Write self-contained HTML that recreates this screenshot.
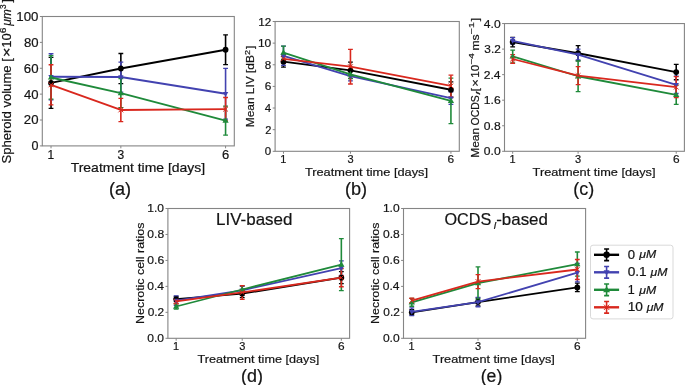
<!DOCTYPE html><html><head><meta charset="utf-8"><style>html,body{margin:0;padding:0;background:#fff;overflow:hidden;}svg{display:block;will-change:transform;}text{stroke:#141414;stroke-width:0.2px;font-family:"Liberation Sans",sans-serif;fill:#141414;}</style></head><body>
<svg width="685" height="385" viewBox="0 0 685 385">
<rect width="685" height="385" fill="#fff"/>
<rect x="42.3" y="16.5" width="192" height="129.4" fill="none" stroke="#858585" stroke-width="1.1"/>
<line x1="39.9" y1="145.9" x2="42.3" y2="145.9" stroke="#858585" stroke-width="1"/>
<text transform="translate(31.51,150.27) scale(0.9872,1)" font-size="12.71">0</text>
<line x1="39.9" y1="120.02" x2="42.3" y2="120.02" stroke="#858585" stroke-width="1"/>
<text transform="translate(23.86,124.39) scale(1.0371,1)" font-size="12.71">20</text>
<line x1="39.9" y1="94.14" x2="42.3" y2="94.14" stroke="#858585" stroke-width="1"/>
<text transform="translate(23.93,98.51) scale(1.0319,1)" font-size="12.71">40</text>
<line x1="39.9" y1="68.26" x2="42.3" y2="68.26" stroke="#858585" stroke-width="1"/>
<text transform="translate(23.81,72.63) scale(1.0407,1)" font-size="12.71">60</text>
<line x1="39.9" y1="42.38" x2="42.3" y2="42.38" stroke="#858585" stroke-width="1"/>
<text transform="translate(23.88,46.75) scale(1.0351,1)" font-size="12.71">80</text>
<line x1="39.9" y1="16.5" x2="42.3" y2="16.5" stroke="#858585" stroke-width="1"/>
<text transform="translate(16.37,20.87) scale(1.0446,1)" font-size="12.71">100</text>
<line x1="51.03" y1="145.9" x2="51.03" y2="148.3" stroke="#858585" stroke-width="1"/>
<text transform="translate(47.53,158.77) scale(0.9429,1)" font-size="12.71">1</text>
<line x1="120.85" y1="145.9" x2="120.85" y2="148.3" stroke="#858585" stroke-width="1"/>
<text transform="translate(117.53,158.77) scale(0.9481,1)" font-size="12.71">3</text>
<line x1="225.57" y1="145.9" x2="225.57" y2="148.3" stroke="#858585" stroke-width="1"/>
<text transform="translate(221.92,158.77) scale(1.0217,1)" font-size="12.71">6</text>
<path d="M51.03,57.39 L51.03,108.37" stroke="#000000" stroke-width="1.6" fill="none"/>
<path d="M48.63,57.39 L53.43,57.39 M48.63,108.37 L53.43,108.37" stroke="#000000" stroke-width="1.3" fill="none"/>
<path d="M120.85,53.51 L120.85,83.53" stroke="#000000" stroke-width="1.6" fill="none"/>
<path d="M118.45,53.51 L123.25,53.51 M118.45,83.53 L123.25,83.53" stroke="#000000" stroke-width="1.3" fill="none"/>
<path d="M225.57,34.87 L225.57,64.64" stroke="#000000" stroke-width="1.6" fill="none"/>
<path d="M223.17,34.87 L227.97,34.87 M223.17,64.64 L227.97,64.64" stroke="#000000" stroke-width="1.3" fill="none"/>
<path d="M51.03,53.77 L51.03,99.83" stroke="#4242b0" stroke-width="1.6" fill="none"/>
<path d="M48.63,53.77 L53.43,53.77 M48.63,99.83 L53.43,99.83" stroke="#4242b0" stroke-width="1.3" fill="none"/>
<path d="M120.85,62.05 L120.85,92.07" stroke="#4242b0" stroke-width="1.6" fill="none"/>
<path d="M118.45,62.05 L123.25,62.05 M118.45,92.07 L123.25,92.07" stroke="#4242b0" stroke-width="1.3" fill="none"/>
<path d="M225.57,68.39 L225.57,119.11" stroke="#4242b0" stroke-width="1.6" fill="none"/>
<path d="M223.17,68.39 L227.97,68.39 M223.17,119.11 L227.97,119.11" stroke="#4242b0" stroke-width="1.3" fill="none"/>
<path d="M51.03,55.71 L51.03,99.19" stroke="#1f8a3a" stroke-width="1.6" fill="none"/>
<path d="M48.63,55.71 L53.43,55.71 M48.63,99.19 L53.43,99.19" stroke="#1f8a3a" stroke-width="1.3" fill="none"/>
<path d="M120.85,78.61 L120.85,107.6" stroke="#1f8a3a" stroke-width="1.6" fill="none"/>
<path d="M118.45,78.61 L123.25,78.61 M118.45,107.6 L123.25,107.6" stroke="#1f8a3a" stroke-width="1.3" fill="none"/>
<path d="M225.57,106.17 L225.57,135.16" stroke="#1f8a3a" stroke-width="1.6" fill="none"/>
<path d="M223.17,106.17 L227.97,106.17 M223.17,135.16 L227.97,135.16" stroke="#1f8a3a" stroke-width="1.3" fill="none"/>
<path d="M51.03,64.77 L51.03,104.88" stroke="#d9281e" stroke-width="1.6" fill="none"/>
<path d="M48.63,64.77 L53.43,64.77 M48.63,104.88 L53.43,104.88" stroke="#d9281e" stroke-width="1.3" fill="none"/>
<path d="M120.85,98.28 L120.85,121.57" stroke="#d9281e" stroke-width="1.6" fill="none"/>
<path d="M118.45,98.28 L123.25,98.28 M118.45,121.57 L123.25,121.57" stroke="#d9281e" stroke-width="1.3" fill="none"/>
<path d="M225.57,97.5 L225.57,120.8" stroke="#d9281e" stroke-width="1.6" fill="none"/>
<path d="M223.17,97.5 L227.97,97.5 M223.17,120.8 L227.97,120.8" stroke="#d9281e" stroke-width="1.3" fill="none"/>
<path d="M51.03,82.88 L120.85,68.52 L225.57,49.76" stroke="#000000" stroke-width="1.95" fill="none" stroke-linejoin="round"/>
<circle cx="51.03" cy="82.88" r="2.9" fill="#000000"/>
<circle cx="120.85" cy="68.52" r="2.9" fill="#000000"/>
<circle cx="225.57" cy="49.76" r="2.9" fill="#000000"/>
<path d="M51.03,76.8 L120.85,77.06 L225.57,93.75" stroke="#4242b0" stroke-width="1.95" fill="none" stroke-linejoin="round"/>
<polygon points="51.03,79.8 53.73,75 48.33,75" fill="#4242b0"/>
<polygon points="120.85,80.06 123.55,75.26 118.15,75.26" fill="#4242b0"/>
<polygon points="225.57,96.75 228.27,91.95 222.87,91.95" fill="#4242b0"/>
<path d="M51.03,77.45 L120.85,93.1 L225.57,120.67" stroke="#1f8a3a" stroke-width="1.95" fill="none" stroke-linejoin="round"/>
<polygon points="51.03,74.15 54.16,79.59 47.89,79.59" fill="#1f8a3a"/>
<polygon points="120.85,89.8 123.98,95.25 117.71,95.25" fill="#1f8a3a"/>
<polygon points="225.57,117.37 228.71,122.81 222.44,122.81" fill="#1f8a3a"/>
<path d="M51.03,84.82 L120.85,109.93 L225.57,109.15" stroke="#d9281e" stroke-width="1.95" fill="none" stroke-linejoin="round"/>
<path d="M48.63,82.42 L53.43,87.22 M48.63,87.22 L53.43,82.42" stroke="#d9281e" stroke-width="1.0" fill="none"/>
<path d="M118.45,107.53 L123.25,112.33 M118.45,112.33 L123.25,107.53" stroke="#d9281e" stroke-width="1.0" fill="none"/>
<path d="M223.17,106.75 L227.97,111.55 M223.17,111.55 L227.97,106.75" stroke="#d9281e" stroke-width="1.0" fill="none"/>
<text transform="translate(70.69,171.8) scale(1.1089,1)" font-size="12.6">Treatment time [days]</text>
<text transform="translate(10.6,163.59) rotate(-90) scale(1.0729,1)" font-size="12.2">Spheroid volume [</text>
<text transform="translate(10.6,57.37) rotate(-90) scale(1.3459,1)" font-size="12.5">×</text>
<text transform="translate(10.6,47.79) rotate(-90) scale(1.0687,1)" font-size="12.2">10</text>
<text transform="translate(6.4,33.32) rotate(-90) scale(1.2422,1)" font-size="8.2">6</text>
<text transform="translate(10.6,25.85) rotate(-90) scale(0.9917,1)" font-size="12.2" font-style="italic">μm</text>
<text transform="translate(6.4,8.91) rotate(-90) scale(1.0031,1)" font-size="8.2">3</text>
<text transform="translate(10.6,2.39) rotate(-90) scale(0.9899,1)" font-size="12.2">]</text>
<text transform="translate(108.92,194.81) scale(1.0322,1)" font-size="17.6">(a)</text>
<rect x="275.1" y="21.5" width="184.2" height="129.8" fill="none" stroke="#858585" stroke-width="1.1"/>
<line x1="272.7" y1="151.3" x2="275.1" y2="151.3" stroke="#858585" stroke-width="1"/>
<text transform="translate(264.86,155.3) scale(0.9872,1)" font-size="11.64">0</text>
<line x1="272.7" y1="129.67" x2="275.1" y2="129.67" stroke="#858585" stroke-width="1"/>
<text transform="translate(265.2,133.67) scale(0.9516,1)" font-size="11.64">2</text>
<line x1="272.7" y1="108.03" x2="275.1" y2="108.03" stroke="#858585" stroke-width="1"/>
<text transform="translate(264.75,112.04) scale(0.9873,1)" font-size="11.64">4</text>
<line x1="272.7" y1="86.4" x2="275.1" y2="86.4" stroke="#858585" stroke-width="1"/>
<text transform="translate(264.71,90.4) scale(1.0217,1)" font-size="11.64">6</text>
<line x1="272.7" y1="64.77" x2="275.1" y2="64.77" stroke="#858585" stroke-width="1"/>
<text transform="translate(264.85,68.77) scale(0.9979,1)" font-size="11.64">8</text>
<line x1="272.7" y1="43.13" x2="275.1" y2="43.13" stroke="#858585" stroke-width="1"/>
<text transform="translate(257.94,47.14) scale(1.0296,1)" font-size="11.64">10</text>
<line x1="272.7" y1="21.5" x2="275.1" y2="21.5" stroke="#858585" stroke-width="1"/>
<text transform="translate(258.32,25.5) scale(1.0093,1)" font-size="11.64">12</text>
<line x1="283.47" y1="151.3" x2="283.47" y2="153.7" stroke="#858585" stroke-width="1"/>
<text transform="translate(280.27,163.42) scale(0.9429,1)" font-size="11.64">1</text>
<line x1="350.45" y1="151.3" x2="350.45" y2="153.7" stroke="#858585" stroke-width="1"/>
<text transform="translate(347.42,163.42) scale(0.9481,1)" font-size="11.64">3</text>
<line x1="450.93" y1="151.3" x2="450.93" y2="153.7" stroke="#858585" stroke-width="1"/>
<text transform="translate(447.58,163.42) scale(1.0217,1)" font-size="11.64">6</text>
<path d="M283.47,56.22 L283.47,67.04" stroke="#000000" stroke-width="1.6" fill="none"/>
<path d="M281.07,56.22 L285.87,56.22 M281.07,67.04 L285.87,67.04" stroke="#000000" stroke-width="1.3" fill="none"/>
<path d="M350.45,62.17 L350.45,78.4" stroke="#000000" stroke-width="1.6" fill="none"/>
<path d="M348.05,62.17 L352.85,62.17 M348.05,78.4 L352.85,78.4" stroke="#000000" stroke-width="1.3" fill="none"/>
<path d="M450.93,81.86 L450.93,97.65" stroke="#000000" stroke-width="1.6" fill="none"/>
<path d="M448.53,81.86 L453.33,81.86 M448.53,97.65 L453.33,97.65" stroke="#000000" stroke-width="1.3" fill="none"/>
<path d="M283.47,46.16 L283.47,65.42" stroke="#4242b0" stroke-width="1.6" fill="none"/>
<path d="M281.07,46.16 L285.87,46.16 M281.07,65.42 L285.87,65.42" stroke="#4242b0" stroke-width="1.3" fill="none"/>
<path d="M350.45,71.15 L350.45,80.88" stroke="#4242b0" stroke-width="1.6" fill="none"/>
<path d="M348.05,71.15 L352.85,71.15 M348.05,80.88 L352.85,80.88" stroke="#4242b0" stroke-width="1.3" fill="none"/>
<path d="M450.93,91.92 L450.93,104.46" stroke="#4242b0" stroke-width="1.6" fill="none"/>
<path d="M448.53,91.92 L453.33,91.92 M448.53,104.46 L453.33,104.46" stroke="#4242b0" stroke-width="1.3" fill="none"/>
<path d="M283.47,46.05 L283.47,59.03" stroke="#1f8a3a" stroke-width="1.6" fill="none"/>
<path d="M281.07,46.05 L285.87,46.05 M281.07,59.03 L285.87,59.03" stroke="#1f8a3a" stroke-width="1.3" fill="none"/>
<path d="M350.45,70.07 L350.45,78.72" stroke="#1f8a3a" stroke-width="1.6" fill="none"/>
<path d="M348.05,70.07 L352.85,70.07 M348.05,78.72 L352.85,78.72" stroke="#1f8a3a" stroke-width="1.3" fill="none"/>
<path d="M450.93,78.18 L450.93,123.61" stroke="#1f8a3a" stroke-width="1.6" fill="none"/>
<path d="M448.53,78.18 L453.33,78.18 M448.53,123.61 L453.33,123.61" stroke="#1f8a3a" stroke-width="1.3" fill="none"/>
<path d="M283.47,54.49 L283.47,63.14" stroke="#d9281e" stroke-width="1.6" fill="none"/>
<path d="M281.07,54.49 L285.87,54.49 M281.07,63.14 L285.87,63.14" stroke="#d9281e" stroke-width="1.3" fill="none"/>
<path d="M350.45,49.41 L350.45,84.02" stroke="#d9281e" stroke-width="1.6" fill="none"/>
<path d="M348.05,49.41 L352.85,49.41 M348.05,84.02 L352.85,84.02" stroke="#d9281e" stroke-width="1.3" fill="none"/>
<path d="M450.93,75.15 L450.93,96.78" stroke="#d9281e" stroke-width="1.6" fill="none"/>
<path d="M448.53,75.15 L453.33,75.15 M448.53,96.78 L453.33,96.78" stroke="#d9281e" stroke-width="1.3" fill="none"/>
<path d="M283.47,61.63 L350.45,70.28 L450.93,89.75" stroke="#000000" stroke-width="1.8" fill="none" stroke-linejoin="round"/>
<circle cx="283.47" cy="61.63" r="2.9" fill="#000000"/>
<circle cx="350.45" cy="70.28" r="2.9" fill="#000000"/>
<circle cx="450.93" cy="89.75" r="2.9" fill="#000000"/>
<path d="M283.47,55.79 L350.45,76.02 L450.93,98.19" stroke="#4242b0" stroke-width="1.8" fill="none" stroke-linejoin="round"/>
<polygon points="283.47,58.79 286.17,53.99 280.77,53.99" fill="#4242b0"/>
<polygon points="350.45,79.02 353.15,74.22 347.75,74.22" fill="#4242b0"/>
<polygon points="450.93,101.19 453.63,96.39 448.23,96.39" fill="#4242b0"/>
<path d="M283.47,52.54 L350.45,74.39 L450.93,100.89" stroke="#1f8a3a" stroke-width="1.8" fill="none" stroke-linejoin="round"/>
<polygon points="283.47,49.24 286.61,54.69 280.34,54.69" fill="#1f8a3a"/>
<polygon points="350.45,71.09 353.59,76.54 347.32,76.54" fill="#1f8a3a"/>
<polygon points="450.93,97.59 454.06,103.04 447.79,103.04" fill="#1f8a3a"/>
<path d="M283.47,58.82 L350.45,66.71 L450.93,85.97" stroke="#d9281e" stroke-width="1.8" fill="none" stroke-linejoin="round"/>
<path d="M281.07,56.42 L285.87,61.22 M281.07,61.22 L285.87,56.42" stroke="#d9281e" stroke-width="1.0" fill="none"/>
<path d="M348.05,64.31 L352.85,69.11 M348.05,69.11 L352.85,64.31" stroke="#d9281e" stroke-width="1.0" fill="none"/>
<path d="M448.53,83.57 L453.33,88.37 M448.53,88.37 L453.33,83.57" stroke="#d9281e" stroke-width="1.0" fill="none"/>
<text transform="translate(304.91,175.6) scale(1.1075,1)" font-size="11.55">Treatment time [days]</text>
<text transform="translate(254,127.28) rotate(-90) scale(1.0561,1)" font-size="11.3">Mean LIV [dB</text>
<text transform="translate(250,54.95) rotate(-90) scale(1.1842,1)" font-size="7.6">2</text>
<text transform="translate(254,48.89) rotate(-90) scale(1.0242,1)" font-size="11.3">]</text>
<text transform="translate(344.92,194.81) scale(1.0322,1)" font-size="17.6">(b)</text>
<rect x="504.5" y="23.55" width="179.9" height="127.75" fill="none" stroke="#858585" stroke-width="1.1"/>
<line x1="502.1" y1="151.3" x2="504.5" y2="151.3" stroke="#858585" stroke-width="1"/>
<text transform="translate(483.83,155.3) scale(1.0407,1)" font-size="11.64">0.0</text>
<line x1="502.1" y1="125.75" x2="504.5" y2="125.75" stroke="#858585" stroke-width="1"/>
<text transform="translate(483.85,129.75) scale(1.0428,1)" font-size="11.64">0.8</text>
<line x1="502.1" y1="100.2" x2="504.5" y2="100.2" stroke="#858585" stroke-width="1"/>
<text transform="translate(483.82,104.2) scale(1.0452,1)" font-size="11.64">1.6</text>
<line x1="502.1" y1="74.65" x2="504.5" y2="74.65" stroke="#858585" stroke-width="1"/>
<text transform="translate(483.66,78.65) scale(1.0440,1)" font-size="11.64">2.4</text>
<line x1="502.1" y1="49.1" x2="504.5" y2="49.1" stroke="#858585" stroke-width="1"/>
<text transform="translate(484.34,53.1) scale(1.0173,1)" font-size="11.64">3.2</text>
<line x1="502.1" y1="23.55" x2="504.5" y2="23.55" stroke="#858585" stroke-width="1"/>
<text transform="translate(483.84,27.55) scale(1.0401,1)" font-size="11.64">4.0</text>
<line x1="512.68" y1="151.3" x2="512.68" y2="153.7" stroke="#858585" stroke-width="1"/>
<text transform="translate(509.48,163.42) scale(0.9429,1)" font-size="11.64">1</text>
<line x1="578.1" y1="151.3" x2="578.1" y2="153.7" stroke="#858585" stroke-width="1"/>
<text transform="translate(575.06,163.42) scale(0.9481,1)" font-size="11.64">3</text>
<line x1="676.22" y1="151.3" x2="676.22" y2="153.7" stroke="#858585" stroke-width="1"/>
<text transform="translate(672.88,163.42) scale(1.0217,1)" font-size="11.64">6</text>
<path d="M512.68,37.28 L512.68,46.86" stroke="#000000" stroke-width="1.6" fill="none"/>
<path d="M510.28,37.28 L515.08,37.28 M510.28,46.86 L515.08,46.86" stroke="#000000" stroke-width="1.3" fill="none"/>
<path d="M578.1,45.59 L578.1,60.92" stroke="#000000" stroke-width="1.6" fill="none"/>
<path d="M575.7,45.59 L580.5,45.59 M575.7,60.92 L580.5,60.92" stroke="#000000" stroke-width="1.3" fill="none"/>
<path d="M676.22,64.43 L676.22,79.76" stroke="#000000" stroke-width="1.6" fill="none"/>
<path d="M673.82,64.43 L678.62,64.43 M673.82,79.76 L678.62,79.76" stroke="#000000" stroke-width="1.3" fill="none"/>
<path d="M512.68,37.6 L512.68,43.99" stroke="#4242b0" stroke-width="1.6" fill="none"/>
<path d="M510.28,37.6 L515.08,37.6 M510.28,43.99 L515.08,43.99" stroke="#4242b0" stroke-width="1.3" fill="none"/>
<path d="M578.1,49.1 L578.1,59.96" stroke="#4242b0" stroke-width="1.6" fill="none"/>
<path d="M575.7,49.1 L580.5,49.1 M575.7,59.96 L580.5,59.96" stroke="#4242b0" stroke-width="1.3" fill="none"/>
<path d="M676.22,76.25 L676.22,93.49" stroke="#4242b0" stroke-width="1.6" fill="none"/>
<path d="M673.82,76.25 L678.62,76.25 M673.82,93.49 L678.62,93.49" stroke="#4242b0" stroke-width="1.3" fill="none"/>
<path d="M512.68,50.06 L512.68,62.83" stroke="#1f8a3a" stroke-width="1.6" fill="none"/>
<path d="M510.28,50.06 L515.08,50.06 M510.28,62.83 L515.08,62.83" stroke="#1f8a3a" stroke-width="1.3" fill="none"/>
<path d="M578.1,60.92 L578.1,91.58" stroke="#1f8a3a" stroke-width="1.6" fill="none"/>
<path d="M575.7,60.92 L580.5,60.92 M575.7,91.58 L580.5,91.58" stroke="#1f8a3a" stroke-width="1.3" fill="none"/>
<path d="M676.22,85.19 L676.22,104.35" stroke="#1f8a3a" stroke-width="1.6" fill="none"/>
<path d="M673.82,85.19 L678.62,85.19 M673.82,104.35 L678.62,104.35" stroke="#1f8a3a" stroke-width="1.3" fill="none"/>
<path d="M512.68,54.53 L512.68,63.47" stroke="#d9281e" stroke-width="1.6" fill="none"/>
<path d="M510.28,54.53 L515.08,54.53 M510.28,63.47 L515.08,63.47" stroke="#d9281e" stroke-width="1.3" fill="none"/>
<path d="M578.1,66.67 L578.1,84.55" stroke="#d9281e" stroke-width="1.6" fill="none"/>
<path d="M575.7,66.67 L580.5,66.67 M575.7,84.55 L580.5,84.55" stroke="#d9281e" stroke-width="1.3" fill="none"/>
<path d="M676.22,76.57 L676.22,97.65" stroke="#d9281e" stroke-width="1.6" fill="none"/>
<path d="M673.82,76.57 L678.62,76.57 M673.82,97.65 L678.62,97.65" stroke="#d9281e" stroke-width="1.3" fill="none"/>
<path d="M512.68,42.07 L578.1,53.25 L676.22,72.09" stroke="#000000" stroke-width="1.8" fill="none" stroke-linejoin="round"/>
<circle cx="512.68" cy="42.07" r="2.9" fill="#000000"/>
<circle cx="578.1" cy="53.25" r="2.9" fill="#000000"/>
<circle cx="676.22" cy="72.09" r="2.9" fill="#000000"/>
<path d="M512.68,40.8 L578.1,54.53 L676.22,84.87" stroke="#4242b0" stroke-width="1.8" fill="none" stroke-linejoin="round"/>
<polygon points="512.68,43.8 515.38,39 509.98,39" fill="#4242b0"/>
<polygon points="578.1,57.53 580.8,52.73 575.4,52.73" fill="#4242b0"/>
<polygon points="676.22,87.87 678.92,83.07 673.52,83.07" fill="#4242b0"/>
<path d="M512.68,56.45 L578.1,76.25 L676.22,94.77" stroke="#1f8a3a" stroke-width="1.8" fill="none" stroke-linejoin="round"/>
<polygon points="512.68,53.15 515.81,58.59 509.54,58.59" fill="#1f8a3a"/>
<polygon points="578.1,72.95 581.23,78.39 574.96,78.39" fill="#1f8a3a"/>
<polygon points="676.22,91.47 679.36,96.92 673.09,96.92" fill="#1f8a3a"/>
<path d="M512.68,59 L578.1,75.61 L676.22,87.11" stroke="#d9281e" stroke-width="1.8" fill="none" stroke-linejoin="round"/>
<path d="M510.28,56.6 L515.08,61.4 M510.28,61.4 L515.08,56.6" stroke="#d9281e" stroke-width="1.0" fill="none"/>
<path d="M575.7,73.21 L580.5,78.01 M575.7,78.01 L580.5,73.21" stroke="#d9281e" stroke-width="1.0" fill="none"/>
<path d="M673.82,84.71 L678.62,89.51 M673.82,89.51 L678.62,84.71" stroke="#d9281e" stroke-width="1.0" fill="none"/>
<text transform="translate(532.61,175.6) scale(1.1057,1)" font-size="11.55">Treatment time [days]</text>
<text transform="translate(478.8,157.78) rotate(-90) scale(1.0752,1)" font-size="11.1">Mean</text>
<text transform="translate(478.8,125.4) rotate(-90) scale(0.9441,1)" font-size="11.1">OCDS</text>
<text transform="translate(480.4,94.81) rotate(-90) scale(2.1880,1)" font-size="6" font-style="italic">l</text>
<text transform="translate(478.8,91.33) rotate(-90) scale(1.0427,1)" font-size="11.1">[</text>
<text transform="translate(478.8,86.7) rotate(-90) scale(1.1828,1)" font-size="11">×</text>
<text transform="translate(478.8,77.79) rotate(-90) scale(1.0572,1)" font-size="11.1">10</text>
<text transform="translate(474.4,64.49) rotate(-90) scale(1.3367,1)" font-size="7.4">−4</text>
<text transform="translate(478.8,50.61) rotate(-90) scale(1.0982,1)" font-size="11.1">ms</text>
<text transform="translate(474.4,34.22) rotate(-90) scale(1.4136,1)" font-size="7.4">−1</text>
<text transform="translate(478.8,21.19) rotate(-90) scale(1.0427,1)" font-size="11.1">]</text>
<text transform="translate(573.19,194.76) scale(1.0197,1)" font-size="17.6">(c)</text>
<rect x="167.9" y="208.5" width="181.7" height="129.8" fill="none" stroke="#858585" stroke-width="1.1"/>
<line x1="165.5" y1="338.3" x2="167.9" y2="338.3" stroke="#858585" stroke-width="1"/>
<text transform="translate(147.31,342.29) scale(1.0407,1)" font-size="11.59">0.0</text>
<line x1="165.5" y1="312.34" x2="167.9" y2="312.34" stroke="#858585" stroke-width="1"/>
<text transform="translate(147.68,316.33) scale(1.0254,1)" font-size="11.59">0.2</text>
<line x1="165.5" y1="286.38" x2="167.9" y2="286.38" stroke="#858585" stroke-width="1"/>
<text transform="translate(147.2,290.37) scale(1.0403,1)" font-size="11.59">0.4</text>
<line x1="165.5" y1="260.42" x2="167.9" y2="260.42" stroke="#858585" stroke-width="1"/>
<text transform="translate(147.27,264.41) scale(1.0471,1)" font-size="11.59">0.6</text>
<line x1="165.5" y1="234.46" x2="167.9" y2="234.46" stroke="#858585" stroke-width="1"/>
<text transform="translate(147.33,238.45) scale(1.0428,1)" font-size="11.59">0.8</text>
<line x1="165.5" y1="208.5" x2="167.9" y2="208.5" stroke="#858585" stroke-width="1"/>
<text transform="translate(147.34,212.49) scale(1.0387,1)" font-size="11.59">1.0</text>
<line x1="176.16" y1="338.3" x2="176.16" y2="340.7" stroke="#858585" stroke-width="1"/>
<text transform="translate(172.97,350.39) scale(0.9429,1)" font-size="11.59">1</text>
<line x1="242.23" y1="338.3" x2="242.23" y2="340.7" stroke="#858585" stroke-width="1"/>
<text transform="translate(239.21,350.39) scale(0.9481,1)" font-size="11.59">3</text>
<line x1="341.34" y1="338.3" x2="341.34" y2="340.7" stroke="#858585" stroke-width="1"/>
<text transform="translate(338.01,350.39) scale(1.0217,1)" font-size="11.59">6</text>
<path d="M176.16,296.5 L176.16,301.7" stroke="#000000" stroke-width="1.6" fill="none"/>
<path d="M173.76,296.5 L178.56,296.5 M173.76,301.7 L178.56,301.7" stroke="#000000" stroke-width="1.3" fill="none"/>
<path d="M242.23,289.75 L242.23,297.54" stroke="#000000" stroke-width="1.6" fill="none"/>
<path d="M239.83,289.75 L244.63,289.75 M239.83,297.54 L244.63,297.54" stroke="#000000" stroke-width="1.3" fill="none"/>
<path d="M341.34,271.71 L341.34,283.65" stroke="#000000" stroke-width="1.6" fill="none"/>
<path d="M338.94,271.71 L343.74,271.71 M338.94,283.65 L343.74,283.65" stroke="#000000" stroke-width="1.3" fill="none"/>
<path d="M176.16,295.99 L176.16,305.33" stroke="#4242b0" stroke-width="1.6" fill="none"/>
<path d="M173.76,295.99 L178.56,295.99 M173.76,305.33 L178.56,305.33" stroke="#4242b0" stroke-width="1.3" fill="none"/>
<path d="M242.23,286.38 L242.23,294.17" stroke="#4242b0" stroke-width="1.6" fill="none"/>
<path d="M239.83,286.38 L244.63,286.38 M239.83,294.17 L244.63,294.17" stroke="#4242b0" stroke-width="1.3" fill="none"/>
<path d="M341.34,260.81 L341.34,275.35" stroke="#4242b0" stroke-width="1.6" fill="none"/>
<path d="M338.94,260.81 L343.74,260.81 M338.94,275.35 L343.74,275.35" stroke="#4242b0" stroke-width="1.3" fill="none"/>
<path d="M176.16,303.9 L176.16,309.1" stroke="#1f8a3a" stroke-width="1.6" fill="none"/>
<path d="M173.76,303.9 L178.56,303.9 M173.76,309.1 L178.56,309.1" stroke="#1f8a3a" stroke-width="1.3" fill="none"/>
<path d="M242.23,285.6 L242.23,293.39" stroke="#1f8a3a" stroke-width="1.6" fill="none"/>
<path d="M239.83,285.6 L244.63,285.6 M239.83,293.39 L244.63,293.39" stroke="#1f8a3a" stroke-width="1.3" fill="none"/>
<path d="M341.34,238.61 L341.34,290.53" stroke="#1f8a3a" stroke-width="1.6" fill="none"/>
<path d="M338.94,238.61 L343.74,238.61 M338.94,290.53 L343.74,290.53" stroke="#1f8a3a" stroke-width="1.3" fill="none"/>
<path d="M176.16,298.71 L176.16,303.9" stroke="#d9281e" stroke-width="1.6" fill="none"/>
<path d="M173.76,298.71 L178.56,298.71 M173.76,303.9 L178.56,303.9" stroke="#d9281e" stroke-width="1.3" fill="none"/>
<path d="M242.23,285.6 L242.23,299.36" stroke="#d9281e" stroke-width="1.6" fill="none"/>
<path d="M239.83,285.6 L244.63,285.6 M239.83,299.36 L244.63,299.36" stroke="#d9281e" stroke-width="1.3" fill="none"/>
<path d="M341.34,268.6 L341.34,286.77" stroke="#d9281e" stroke-width="1.6" fill="none"/>
<path d="M338.94,268.6 L343.74,268.6 M338.94,286.77 L343.74,286.77" stroke="#d9281e" stroke-width="1.3" fill="none"/>
<path d="M176.16,299.1 L242.23,293.65 L341.34,277.68" stroke="#000000" stroke-width="1.8" fill="none" stroke-linejoin="round"/>
<circle cx="176.16" cy="299.1" r="2.9" fill="#000000"/>
<circle cx="242.23" cy="293.65" r="2.9" fill="#000000"/>
<circle cx="341.34" cy="277.68" r="2.9" fill="#000000"/>
<path d="M176.16,300.66 L242.23,290.27 L341.34,268.08" stroke="#4242b0" stroke-width="1.8" fill="none" stroke-linejoin="round"/>
<polygon points="176.16,303.66 178.86,298.86 173.46,298.86" fill="#4242b0"/>
<polygon points="242.23,293.27 244.93,288.47 239.53,288.47" fill="#4242b0"/>
<polygon points="341.34,271.08 344.04,266.28 338.64,266.28" fill="#4242b0"/>
<path d="M176.16,306.5 L242.23,289.5 L341.34,264.57" stroke="#1f8a3a" stroke-width="1.8" fill="none" stroke-linejoin="round"/>
<polygon points="176.16,303.2 179.29,308.64 173.02,308.64" fill="#1f8a3a"/>
<polygon points="242.23,286.2 245.37,291.64 239.1,291.64" fill="#1f8a3a"/>
<polygon points="341.34,261.27 344.48,266.72 338.21,266.72" fill="#1f8a3a"/>
<path d="M176.16,301.31 L242.23,292.48 L341.34,277.68" stroke="#d9281e" stroke-width="1.8" fill="none" stroke-linejoin="round"/>
<path d="M173.76,298.91 L178.56,303.71 M173.76,303.71 L178.56,298.91" stroke="#d9281e" stroke-width="1.0" fill="none"/>
<path d="M239.83,290.08 L244.63,294.88 M239.83,294.88 L244.63,290.08" stroke="#d9281e" stroke-width="1.0" fill="none"/>
<path d="M338.94,275.28 L343.74,280.08 M338.94,280.08 L343.74,275.28" stroke="#d9281e" stroke-width="1.0" fill="none"/>
<text transform="translate(197.42,362.6) scale(1.0949,1)" font-size="11.55">Treatment time [days]</text>
<text transform="translate(143.6,323.92) rotate(-90) scale(1.0885,1)" font-size="11.4">Necrotic cell ratios</text>
<text transform="translate(216.11,224.6) scale(1.0337,1)" font-size="16.4">LIV-based</text>
<text transform="translate(241.09,381.96) scale(1.0193,1)" font-size="17.6">(d)</text>
<rect x="403.5" y="208.5" width="182.1" height="129.8" fill="none" stroke="#858585" stroke-width="1.1"/>
<line x1="401.1" y1="338.3" x2="403.5" y2="338.3" stroke="#858585" stroke-width="1"/>
<text transform="translate(382.91,342.29) scale(1.0407,1)" font-size="11.59">0.0</text>
<line x1="401.1" y1="312.34" x2="403.5" y2="312.34" stroke="#858585" stroke-width="1"/>
<text transform="translate(383.28,316.33) scale(1.0254,1)" font-size="11.59">0.2</text>
<line x1="401.1" y1="286.38" x2="403.5" y2="286.38" stroke="#858585" stroke-width="1"/>
<text transform="translate(382.8,290.37) scale(1.0403,1)" font-size="11.59">0.4</text>
<line x1="401.1" y1="260.42" x2="403.5" y2="260.42" stroke="#858585" stroke-width="1"/>
<text transform="translate(382.87,264.41) scale(1.0471,1)" font-size="11.59">0.6</text>
<line x1="401.1" y1="234.46" x2="403.5" y2="234.46" stroke="#858585" stroke-width="1"/>
<text transform="translate(382.93,238.45) scale(1.0428,1)" font-size="11.59">0.8</text>
<line x1="401.1" y1="208.5" x2="403.5" y2="208.5" stroke="#858585" stroke-width="1"/>
<text transform="translate(382.94,212.49) scale(1.0387,1)" font-size="11.59">1.0</text>
<line x1="411.78" y1="338.3" x2="411.78" y2="340.7" stroke="#858585" stroke-width="1"/>
<text transform="translate(408.59,350.39) scale(0.9429,1)" font-size="11.59">1</text>
<line x1="478" y1="338.3" x2="478" y2="340.7" stroke="#858585" stroke-width="1"/>
<text transform="translate(474.97,350.39) scale(0.9481,1)" font-size="11.59">3</text>
<line x1="577.32" y1="338.3" x2="577.32" y2="340.7" stroke="#858585" stroke-width="1"/>
<text transform="translate(573.99,350.39) scale(1.0217,1)" font-size="11.59">6</text>
<path d="M411.78,309.74 L411.78,314.94" stroke="#000000" stroke-width="1.6" fill="none"/>
<path d="M409.38,309.74 L414.18,309.74 M409.38,314.94 L414.18,314.94" stroke="#000000" stroke-width="1.3" fill="none"/>
<path d="M478,298.19 L478,305.98" stroke="#000000" stroke-width="1.6" fill="none"/>
<path d="M475.6,298.19 L480.4,298.19 M475.6,305.98 L480.4,305.98" stroke="#000000" stroke-width="1.3" fill="none"/>
<path d="M577.32,283.13 L577.32,291.7" stroke="#000000" stroke-width="1.6" fill="none"/>
<path d="M574.92,283.13 L579.72,283.13 M574.92,291.7 L579.72,291.7" stroke="#000000" stroke-width="1.3" fill="none"/>
<path d="M411.78,307.93 L411.78,315.71" stroke="#4242b0" stroke-width="1.6" fill="none"/>
<path d="M409.38,307.93 L414.18,307.93 M409.38,315.71 L414.18,315.71" stroke="#4242b0" stroke-width="1.3" fill="none"/>
<path d="M478,297.41 L478,306.76" stroke="#4242b0" stroke-width="1.6" fill="none"/>
<path d="M475.6,297.41 L480.4,297.41 M475.6,306.76 L480.4,306.76" stroke="#4242b0" stroke-width="1.3" fill="none"/>
<path d="M577.32,263.28 L577.32,281.97" stroke="#4242b0" stroke-width="1.6" fill="none"/>
<path d="M574.92,263.28 L579.72,263.28 M574.92,281.97 L579.72,281.97" stroke="#4242b0" stroke-width="1.3" fill="none"/>
<path d="M411.78,298.45 L411.78,306.24" stroke="#1f8a3a" stroke-width="1.6" fill="none"/>
<path d="M409.38,298.45 L414.18,298.45 M409.38,306.24 L414.18,306.24" stroke="#1f8a3a" stroke-width="1.3" fill="none"/>
<path d="M478,266.91 L478,299.36" stroke="#1f8a3a" stroke-width="1.6" fill="none"/>
<path d="M475.6,266.91 L480.4,266.91 M475.6,299.36 L480.4,299.36" stroke="#1f8a3a" stroke-width="1.3" fill="none"/>
<path d="M577.32,251.98 L577.32,276.13" stroke="#1f8a3a" stroke-width="1.6" fill="none"/>
<path d="M574.92,251.98 L579.72,251.98 M574.92,276.13 L579.72,276.13" stroke="#1f8a3a" stroke-width="1.3" fill="none"/>
<path d="M411.78,298.06 L411.78,303.25" stroke="#d9281e" stroke-width="1.6" fill="none"/>
<path d="M409.38,298.06 L414.18,298.06 M409.38,303.25 L414.18,303.25" stroke="#d9281e" stroke-width="1.3" fill="none"/>
<path d="M478,274.57 L478,288.59" stroke="#d9281e" stroke-width="1.6" fill="none"/>
<path d="M475.6,274.57 L480.4,274.57 M475.6,288.59 L480.4,288.59" stroke="#d9281e" stroke-width="1.3" fill="none"/>
<path d="M577.32,259.51 L577.32,279.5" stroke="#d9281e" stroke-width="1.6" fill="none"/>
<path d="M574.92,259.51 L579.72,259.51 M574.92,279.5 L579.72,279.5" stroke="#d9281e" stroke-width="1.3" fill="none"/>
<path d="M411.78,312.34 L478,302.09 L577.32,287.42" stroke="#000000" stroke-width="1.8" fill="none" stroke-linejoin="round"/>
<circle cx="411.78" cy="312.34" r="2.9" fill="#000000"/>
<circle cx="478" cy="302.09" r="2.9" fill="#000000"/>
<circle cx="577.32" cy="287.42" r="2.9" fill="#000000"/>
<path d="M411.78,311.82 L478,302.09 L577.32,272.62" stroke="#4242b0" stroke-width="1.8" fill="none" stroke-linejoin="round"/>
<polygon points="411.78,314.82 414.48,310.02 409.08,310.02" fill="#4242b0"/>
<polygon points="478,305.09 480.7,300.29 475.3,300.29" fill="#4242b0"/>
<polygon points="577.32,275.62 580.02,270.82 574.62,270.82" fill="#4242b0"/>
<path d="M411.78,302.35 L478,283.13 L577.32,264.05" stroke="#1f8a3a" stroke-width="1.8" fill="none" stroke-linejoin="round"/>
<polygon points="411.78,299.05 414.91,304.49 408.64,304.49" fill="#1f8a3a"/>
<polygon points="478,279.83 481.13,285.28 474.86,285.28" fill="#1f8a3a"/>
<polygon points="577.32,260.75 580.46,266.2 574.19,266.2" fill="#1f8a3a"/>
<path d="M411.78,300.66 L478,281.58 L577.32,269.51" stroke="#d9281e" stroke-width="1.8" fill="none" stroke-linejoin="round"/>
<path d="M409.38,298.26 L414.18,303.06 M409.38,303.06 L414.18,298.26" stroke="#d9281e" stroke-width="1.0" fill="none"/>
<path d="M475.6,279.18 L480.4,283.98 M475.6,283.98 L480.4,279.18" stroke="#d9281e" stroke-width="1.0" fill="none"/>
<path d="M574.92,267.11 L579.72,271.91 M574.92,271.91 L579.72,267.11" stroke="#d9281e" stroke-width="1.0" fill="none"/>
<text transform="translate(432.61,362.6) scale(1.1012,1)" font-size="11.55">Treatment time [days]</text>
<text transform="translate(379,323.92) rotate(-90) scale(1.0885,1)" font-size="11.4">Necrotic cell ratios</text>
<text transform="translate(444.43,225) scale(0.9879,1)" font-size="16.4">OCDS</text>
<text transform="translate(493.63,229.2) scale(1.1055,1)" font-size="9.5" font-style="italic">l</text>
<text transform="translate(496.25,225) scale(1.0298,1)" font-size="16.4">-based</text>
<text transform="translate(480.7,381.96) scale(1.0038,1)" font-size="17.6">(e)</text>
<rect x="590.5" y="245.2" width="82.5" height="73.7" rx="2.5" fill="#fff" stroke="#d9d9d9" stroke-width="1"/>
<line x1="594.0" y1="254.8" x2="619.1" y2="254.8" stroke="#000000" stroke-width="2.4"/>
<path d="M606.6,249 L606.6,260.6 M604.1,249 L609.1,249 M604.1,260.6 L609.1,260.6" stroke="#000000" stroke-width="1.6" fill="none"/>
<circle cx="606.6" cy="254.8" r="3.19" fill="#000000"/>
<text transform="translate(627.69,258.55) scale(1.0859,1)" font-size="12.07">0</text>
<text transform="translate(639.26,258.4) scale(1.0577,1)" font-size="11.6" font-style="italic">μM</text>
<line x1="594.0" y1="272.3" x2="619.1" y2="272.3" stroke="#4242b0" stroke-width="2.4"/>
<path d="M606.6,266.5 L606.6,278.1 M604.1,266.5 L609.1,266.5 M604.1,278.1 L609.1,278.1" stroke="#4242b0" stroke-width="1.6" fill="none"/>
<polygon points="606.6,275.6 609.57,270.32 603.63,270.32" fill="#4242b0"/>
<text transform="translate(627.67,276.35) scale(1.1329,1)" font-size="12.07">0.1</text>
<text transform="translate(650.46,276.2) scale(1.0577,1)" font-size="11.6" font-style="italic">μM</text>
<line x1="594.0" y1="289.8" x2="619.1" y2="289.8" stroke="#1f8a3a" stroke-width="2.4"/>
<path d="M606.6,284 L606.6,295.6 M604.1,284 L609.1,284 M604.1,295.6 L609.1,295.6" stroke="#1f8a3a" stroke-width="1.6" fill="none"/>
<polygon points="606.6,286.17 610.05,292.16 603.15,292.16" fill="#1f8a3a"/>
<text transform="translate(627.75,293.95) scale(1.0372,1)" font-size="12.07">1</text>
<text transform="translate(639.26,293.8) scale(1.0577,1)" font-size="11.6" font-style="italic">μM</text>
<line x1="594.0" y1="307.3" x2="619.1" y2="307.3" stroke="#d9281e" stroke-width="2.4"/>
<path d="M606.6,301.5 L606.6,313.1 M604.1,301.5 L609.1,301.5 M604.1,313.1 L609.1,313.1" stroke="#d9281e" stroke-width="1.6" fill="none"/>
<path d="M603.96,304.66 L609.24,309.94 M603.96,309.94 L609.24,304.66" stroke="#d9281e" stroke-width="1.0" fill="none"/>
<text transform="translate(627.66,311.25) scale(1.1326,1)" font-size="12.07">10</text>
<text transform="translate(646.66,311.1) scale(1.0577,1)" font-size="11.6" font-style="italic">μM</text>
</svg></body></html>
